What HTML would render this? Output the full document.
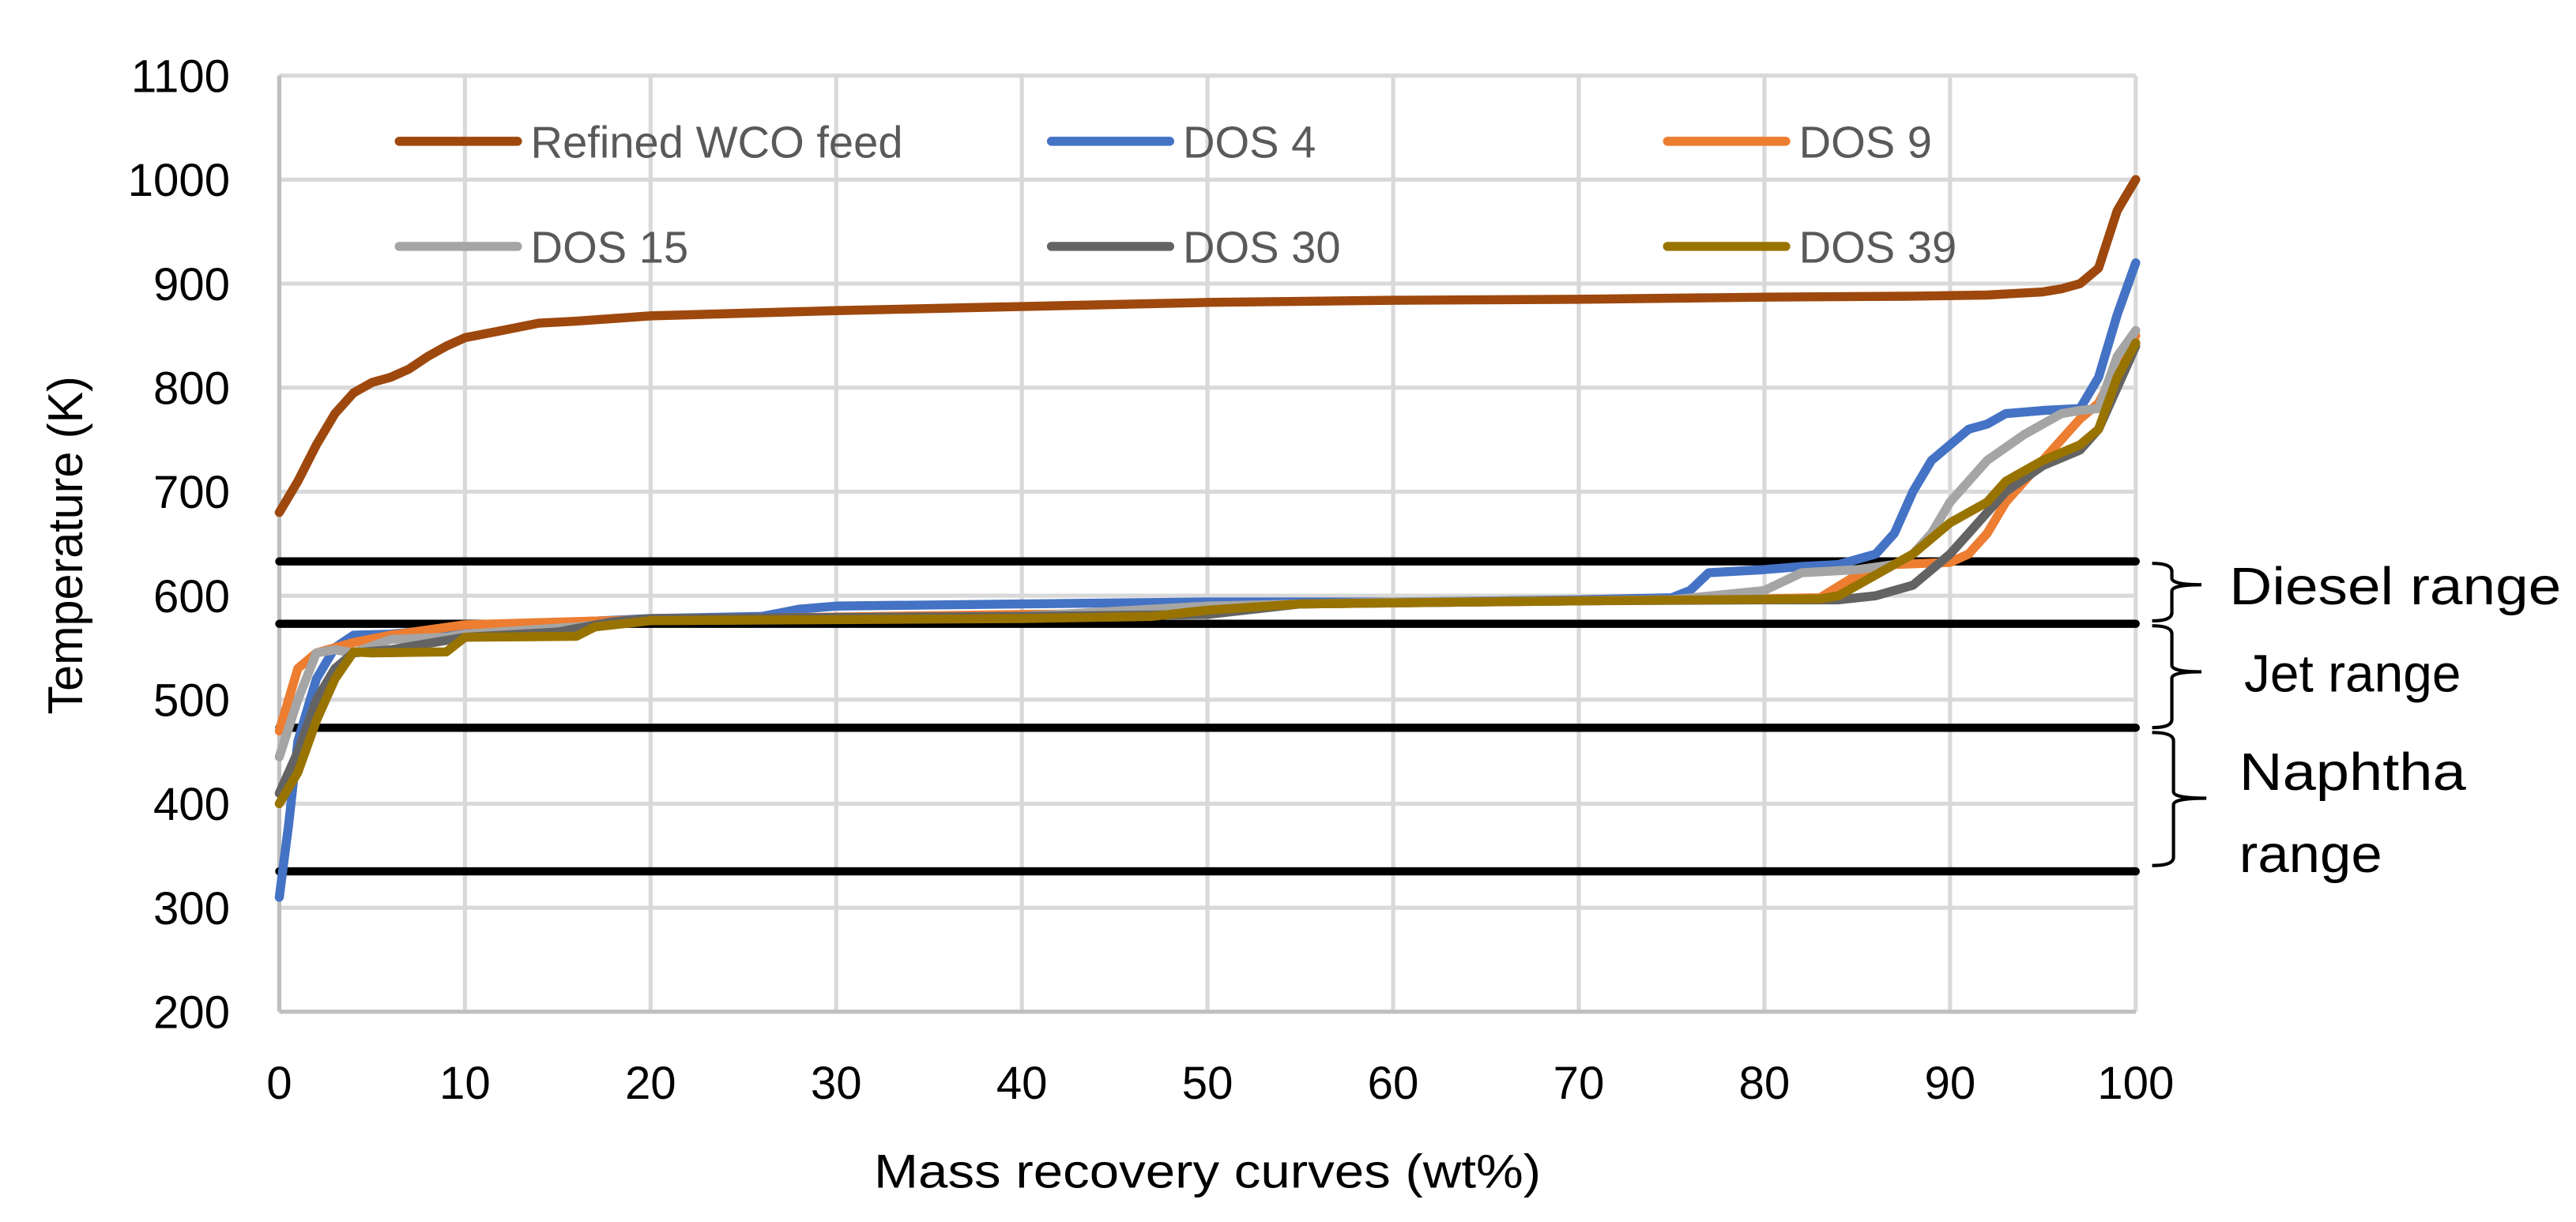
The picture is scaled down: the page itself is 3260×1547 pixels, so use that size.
<!DOCTYPE html>
<html><head><meta charset="utf-8"><style>
html,body{margin:0;padding:0;background:#fff;}
svg{display:block;font-family:"Liberation Sans",sans-serif;}
</style></head><body>
<svg id="chart" width="3260" height="1547" viewBox="0 0 1568 744" xmlns="http://www.w3.org/2000/svg">
<g id="grid"></g>
<g id="ranges"></g>
<g id="series"></g>
<g id="axes"></g>
<g id="legend"></g>
<g fill="none" stroke="#000" stroke-width="2">
<path d="M1310,343 Q1322,343 1322,348 L1322,352 Q1322,356 1340,356 Q1322,356 1322,360 L1322,373 Q1322,378 1310,378"/>
<path d="M1310,381 Q1322,381 1322,386 L1322,405 Q1322,409 1340,409 Q1322,409 1322,413 L1322,438 Q1322,443 1310,443"/>
<path d="M1310,446 Q1323,446 1323,451 L1323,482 Q1323,486 1343,486 Q1323,486 1323,490 L1323,522 Q1323,527 1310,527"/>
</g>
<g font-size="32" fill="#000">
<text x="1357" y="368" textLength="202" lengthAdjust="spacingAndGlyphs">Diesel range</text>
<text x="1366" y="421" textLength="132" lengthAdjust="spacingAndGlyphs">Jet range</text>
<text x="1363" y="481" textLength="138" lengthAdjust="spacingAndGlyphs">Naphtha</text>
<text x="1363" y="531" textLength="87" lengthAdjust="spacingAndGlyphs">range</text>
</g>
<text x="735" y="723" font-size="29" text-anchor="middle" textLength="406" lengthAdjust="spacingAndGlyphs">Mass recovery curves (wt%)</text>
<text transform="translate(50,332) rotate(-90)" font-size="30" text-anchor="middle" textLength="206" lengthAdjust="spacingAndGlyphs">Temperature (K)</text>
</svg>
<script>
const xTicks=[0,10,20,30,40,50,60,70,80,90,100];
const yTicks=[200,300,400,500,600,700,800,900,1000,1100];
const rangeBounds=[633,573,473,335];
const seriesNames=["Refined WCO feed","DOS 4","DOS 9","DOS 15","DOS 30","DOS 39"];
const wcoX=[0,1,2,3,4,5,6,7,8,9,10,12,14,16,20,30,40,50,60,70,80,88,92,95,96,97,98,99,99.5,100];
const wcoY=[680,710,745,775,795,805,810,818,830,840,848,855,862,864,869,874,878,882,884,885,887,888,889,892,895,900,915,970,985,1000];
const dos4X=[0,0.5,1,2,3,4,6,10,20,26,28,30,40,50,60,70,75,76,77,80,82,84,86,87,88,89,90,91,92,93,95,97,98,99,100];
const dos4Y=[310,380,460,520,550,562,563,570,578,580,587,590,592,594,594,596,598,605,622,625,628,630,640,660,700,730,745,760,765,775,778,780,810,870,920];
const dos9X=[0,1,2,3,4,6,10,20,40,48,50,55,70,80,83,85,87,90,91,92,93,95,97,98,99,100];
const dos9Y=[470,530,545,550,555,562,572,577,582,583,588,592,595,597,598,620,630,632,640,660,690,730,770,785,820,850];
const dos15X=[0,1,2,3,4,6,9,10,16,20,40,50,60,75,80,82,85,87,88,89,90,92,94,96,97,98,99,100];
const dos15Y=[445,500,545,548,545,558,560,563,570,577,580,590,594,596,605,622,625,630,640,660,690,730,755,775,778,780,830,855];
const dos30X=[0,1,2,3,4,6,10,15,18,20,40,50,55,70,80,84,86,88,90,91,92,93,95,97,98,99,100];
const dos30Y=[410,450,500,530,545,548,560,565,575,578,580,582,592,595,596,596,600,610,640,660,680,700,725,740,760,800,840];
const dos39X=[0,1,2,3,4,5,9,10,16,17,20,40,47,50,55,70,83,84,86,88,90,92,93,95,97,98,99,100];
const dos39Y=[400,430,480,520,546,545,546,560,561,570,576,578,580,586,592,595,597,600,620,640,670,690,710,730,745,760,810,843];
const allX=[wcoX,dos4X,dos9X,dos15X,dos30X,dos39X];
const allY=[wcoY,dos4Y,dos9Y,dos15Y,dos30Y,dos39Y];
const colors=["#9E480E","#4472C4","#ED7D31","#A5A5A5","#636363","#997300"];
const X0=170,X1=1300,Y0=616,Y1=46;
const sx=v=>X0+(v-0)/(100-0)*(X1-X0);
const sy=v=>Y0-(v-200)/(1100-200)*(Y0-Y1);
const NS="http://www.w3.org/2000/svg";
function mk(tag,parent,attrs){const e=document.createElementNS(NS,tag);for(const k in attrs)e.setAttribute(k,attrs[k]);parent.appendChild(e);return e;}
const grid=document.getElementById('grid'),axes=document.getElementById('axes');
xTicks.forEach(t=>{
 const l=mk('line',grid,{x1:sx(t),x2:sx(t),y1:Y1,y2:Y0,stroke:'#d9d9d9','stroke-width':2.5});
 
 
 const tx=mk('text',axes,{x:sx(t),y:669,'font-size':28,'text-anchor':'middle',fill:'#000'});tx.textContent=t;
 
 
});
yTicks.forEach(t=>{
 const l=mk('line',grid,{x1:X0,x2:X1,y1:sy(t),y2:sy(t),stroke:'#d9d9d9','stroke-width':2.5});
 
 
 const tx=mk('text',axes,{x:140,y:sy(t)+10,'font-size':28,'text-anchor':'end',fill:'#000'});tx.textContent=t;
 
 
});
const ax=mk('line',grid,{x1:X0,x2:X0,y1:Y1,y2:Y0,stroke:'#bfbfbf','stroke-width':2.5});


const bx=mk('line',grid,{x1:X0,x2:X1,y1:Y0,y2:Y0,stroke:'#bfbfbf','stroke-width':2.5});


const ranges=document.getElementById('ranges');
rangeBounds.forEach(v=>{
 const l=mk('line',ranges,{x1:X0,x2:X1,y1:sy(v),y2:sy(v),stroke:'#000','stroke-width':5,'stroke-linecap':'round'});
 
 
});
const sg=document.getElementById('series');
[1,2,3,4,5,0].forEach(i=>{
 const pts=allX[i].map((x,j)=>sx(x).toFixed(1)+','+sy(allY[i][j]).toFixed(1)).join(' ');
 const p=mk('polyline',sg,{points:pts,fill:'none',stroke:colors[i],'stroke-width':5.5,'stroke-linejoin':'round','stroke-linecap':'round'});
 
 
});
const lg=document.getElementById('legend');
const lgPos=[[243,86],[640,86],[1015,86],[243,150],[640,150],[1015,150]];
seriesNames.forEach((n,i)=>{
 const [x,y]=lgPos[i];
 const g=mk('g',lg,{});
 
 
 mk('line',g,{x1:x,x2:x+72,y1:y,y2:y,stroke:colors[i],'stroke-width':5.5,'stroke-linecap':'round'});
 const t=mk('text',g,{x:x+80,y:y+10,'font-size':27,fill:'#595959'});t.textContent=n;
});
</script>
</body></html>
